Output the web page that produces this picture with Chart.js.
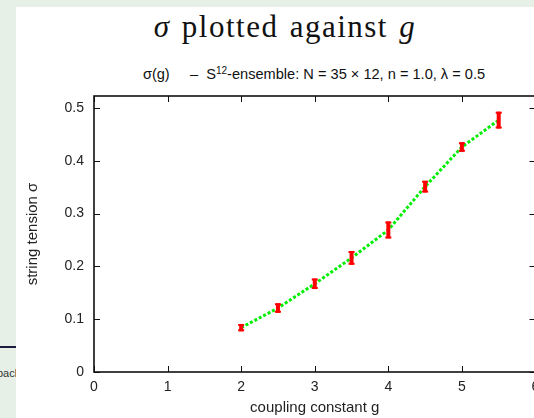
<!DOCTYPE html>
<html>
<head>
<meta charset="utf-8">
<script src="https://cdn.jsdelivr.net/npm/chart.js@4.4.1/dist/chart.umd.min.js"></script>
<style>
  html, body { margin: 0; padding: 0; }
  body { width: 534px; height: 418px; overflow: hidden; background: #e6f0e6; position: relative; font-family: "Liberation Sans", Arial, sans-serif; }
  #panel { position: absolute; left: 16px; top: 7px; width: 560px; height: 420px; background: #fff; }
  #head { position: absolute; left: 16px; top: 9px; width: 538px; text-align: center; font-family: "Liberation Serif", "DejaVu Serif", serif; font-size: 31px; letter-spacing: 1.5px; word-spacing: 2px; color: #111; white-space: nowrap; }
  #sub { position: absolute; left: 16px; top: 66px; width: 596px; text-align: center; font-size: 14.6px; color: #111; white-space: pre; }
  #sub sup { font-size: 10px; vertical-align: 5px; line-height: 0; }
  #side { position: absolute; left: 0; top: 346px; width: 16px; height: 2px; background: #1c1c3c; }
  #cut { position: absolute; left: 0; top: 367px; width: 16px; overflow: hidden; font-size: 11px; color: #333; }
  #cut span { position: relative; left: -3px; }
  #wrap { position: absolute; left: 16px; top: 72px; width: 540px; height: 346px; }
</style>
</head>
<body>
<div id="panel"></div>
<div id="side"></div>
<div id="cut"><span>back</span></div>
<div id="head"><i>σ</i> plotted against <i>g</i></div>
<div id="sub">σ(g)     –  S<sup>12</sup>-ensemble: N = 35 × 12, n = 1.0, λ = 0.5</div>
<div id="wrap"><canvas id="sigmaChart" width="540" height="346"></canvas></div>
<script>
// coupling constant g and measured string tension
const gValues = [2, 2.5, 3, 3.5, 4, 4.5, 5, 5.5];
const sigmaValues = [0.084, 0.121, 0.167, 0.216, 0.269, 0.351, 0.426, 0.477];
const sigmaErrors = [0.007, 0.009, 0.010, 0.013, 0.016, 0.011, 0.009, 0.016];
const xTicks = [0, 1, 2, 3, 4, 5, 6];
const yTicks = [0, 0.1, 0.2, 0.3, 0.4, 0.5];

// gnuplot style frame with inward ticks on all four sides
const frameTicks = {
  id: "frameTicks",
  afterDatasetsDraw(chart) {
    const { ctx, chartArea: a, scales } = chart;
    const len = 6;
    ctx.save();
    ctx.strokeStyle = "#111";
    ctx.lineWidth = 1;
    ctx.beginPath();
    xTicks.forEach((t) => {
      const x = Math.round(scales.x.getPixelForValue(t)) + 0.5;
      ctx.moveTo(x, a.bottom); ctx.lineTo(x, a.bottom - len);
      ctx.moveTo(x, a.top); ctx.lineTo(x, a.top + len);
    });
    yTicks.forEach((t) => {
      const y = Math.round(scales.y.getPixelForValue(t)) + 0.5;
      ctx.moveTo(a.left, y); ctx.lineTo(a.left + len, y);
      ctx.moveTo(a.right, y); ctx.lineTo(a.right - len, y);
    });
    ctx.stroke();
    ctx.lineWidth = 1.6;
    ctx.strokeRect(a.left, a.top, a.right - a.left, a.bottom - a.top);
    ctx.restore();
  },
};

// red error bars drawn on top of the line
const errorBars = {
  id: "errorBars",
  afterDatasetsDraw(chart) {
    const { ctx, scales } = chart;
    ctx.save();
    ctx.strokeStyle = "#ff0000";
    gValues.forEach((g, i) => {
      const x = scales.x.getPixelForValue(g);
      const yTop = scales.y.getPixelForValue(sigmaValues[i] + sigmaErrors[i]);
      const yBot = scales.y.getPixelForValue(sigmaValues[i] - sigmaErrors[i]);
      ctx.lineWidth = 4;
      ctx.beginPath();
      ctx.moveTo(x, yTop); ctx.lineTo(x, yBot);
      ctx.stroke();
      ctx.lineWidth = 2;
      ctx.beginPath();
      ctx.moveTo(x - 3, yTop + 1); ctx.lineTo(x + 3, yTop + 1);
      ctx.moveTo(x - 3, yBot - 1); ctx.lineTo(x + 3, yBot - 1);
      ctx.stroke();
    });
    ctx.restore();
  },
};

new Chart(document.getElementById("sigmaChart"), {
  type: "scatter",
  data: {
    datasets: [
      {
        label: "sigma",
        data: gValues.map((g, i) => ({ x: g, y: sigmaValues[i] })),
        showLine: true,
        borderColor: "#00ee00",
        borderWidth: 3,
        borderDash: [3, 2],
        pointRadius: 0,
        tension: 0,
      },
    ],
  },
  options: {
    responsive: false,
    animation: false,
    layout: { padding: { top: 24, right: 20.5, left: 0, bottom: 0 } },
    plugins: {
      legend: { display: false },
      tooltip: { enabled: false },
    },
    scales: {
      x: {
        type: "linear",
        min: 0,
        max: 6,
        afterBuildTicks: (s) => { s.ticks = xTicks.map((v) => ({ value: v })); },
        afterFit: (s) => { s.height = 46; },
        grid: { display: false, drawTicks: false },
        border: { display: false },
        ticks: { color: "#222", font: { family: "Liberation Sans", size: 14 }, padding: 7, maxRotation: 0 },
        title: {
          display: true,
          text: "coupling constant g",
          color: "#222",
          font: { family: "Liberation Sans", size: 15 },
          padding: { top: 0, bottom: 1 },
        },
      },
      y: {
        type: "linear",
        min: 0,
        max: 0.5226,
        afterBuildTicks: (s) => { s.ticks = yTicks.map((v) => ({ value: v })); },
        afterFit: (s) => { s.width = 78; },
        grid: { display: false, drawTicks: false },
        border: { display: false },
        ticks: {
          color: "#222",
          font: { family: "Liberation Sans", size: 14 },
          padding: 10,
          callback: (v) => String(Number(v.toFixed(1))),
        },
        title: {
          display: true,
          text: "string tension σ",
          color: "#222",
          font: { family: "Liberation Sans", size: 15 },
          padding: { top: 8, bottom: 0 },
        },
      },
    },
  },
  plugins: [errorBars, frameTicks],
});
</script>
</body>
</html>
